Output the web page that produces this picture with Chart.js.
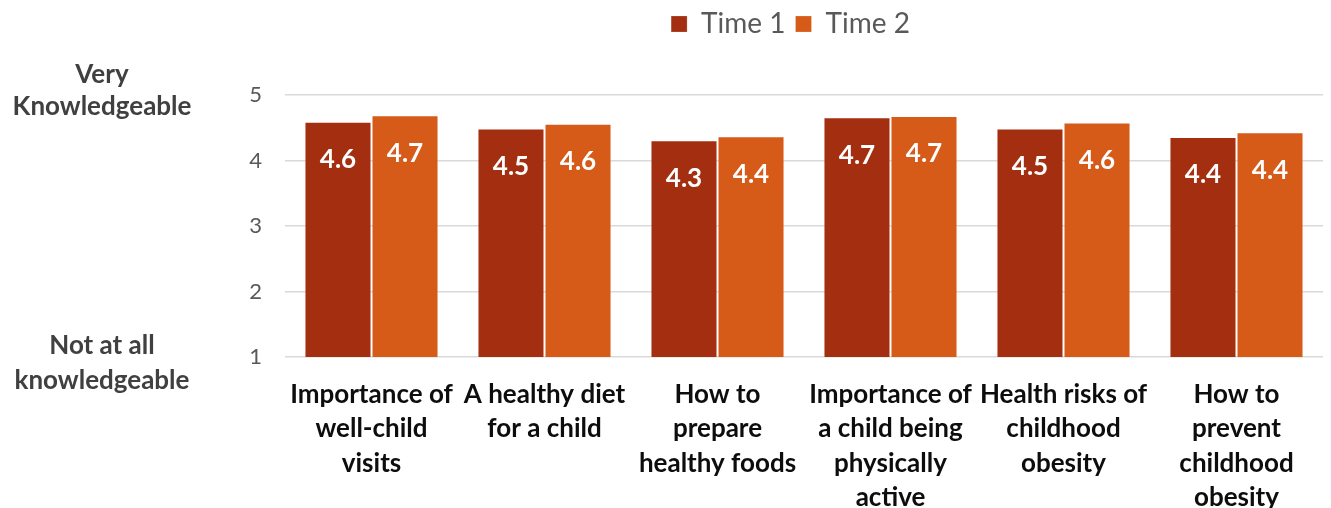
<!DOCTYPE html>
<html>
<head>
<meta charset="utf-8">
<script src="https://cdn.jsdelivr.net/npm/chart.js@4.4.1/dist/chart.umd.min.js"></script>
<style>
  html, body { margin: 0; padding: 0; background: #fff; }
  #wrap { width: 1331px; height: 508px; }
</style>
</head>
<body>
<div id="wrap"><canvas id="myChart" width="1331" height="508"></canvas></div>
<script>
// categories (already split into lines) and the two survey rounds
var categories = [
  ["Importance of", "well-child", "visits"],
  ["A healthy diet", "for a child"],
  ["How to", "prepare", "healthy foods"],
  ["Importance of", "a child being", "physically", "active"],
  ["Health risks of", "childhood", "obesity"],
  ["How to", "prevent", "childhood", "obesity"]
];
var time1 = [4.59, 4.49, 4.31, 4.66, 4.49, 4.36];
var time2 = [4.69, 4.56, 4.37, 4.68, 4.58, 4.43];
var yTicks = [1, 2, 3, 4, 5];
var topTitle = ["Very", "Knowledgeable"];
var bottomTitle = ["Not at all", "knowledgeable"];

var FONT = "Lato, 'Open Sans', sans-serif";

// white value labels inside the top of each bar
var valueLabels = {
  id: "valueLabels",
  afterDatasetsDraw: function(chart) {
    var ctx = chart.ctx;
    ctx.save();
    ctx.fillStyle = "#ffffff";
    ctx.font = "bold 26px " + FONT;
    ctx.textAlign = "center";
    ctx.textBaseline = "middle";
    chart.data.datasets.forEach(function(ds, i) {
      var meta = chart.getDatasetMeta(i);
      meta.data.forEach(function(bar, j) {
        ctx.fillText(ds.data[j].toFixed(1), bar.x, bar.y + 38);
      });
    });
    ctx.restore();
  }
};

// the two scale end captions left of the y axis
var scaleCaptions = {
  id: "scaleCaptions",
  afterDraw: function(chart) {
    var ctx = chart.ctx;
    var y = chart.scales.y;
    ctx.save();
    ctx.fillStyle = "#404040";
    ctx.font = "bold 26px " + FONT;
    ctx.textAlign = "center";
    ctx.textBaseline = "middle";
    var drawLines = function(lines, cy, lh) {
      var start = cy - (lines.length - 1) * lh / 2;
      lines.forEach(function(t, k) { ctx.fillText(t, 102, start + k * lh); });
    };
    drawLines(topTitle, y.getPixelForValue(5) - 4, 32);
    drawLines(bottomTitle, y.getPixelForValue(1) + 6, 35);
    ctx.restore();
  }
};

// legend: fixed band height above the plot, items centred over the plot
var legendBand = {
  id: "legendBand",
  beforeInit: function(chart) {
    var fit = chart.legend.fit;
    chart.legend.fit = function() {
      fit.call(this);
      this.height = 95;
    };
  },
  afterLayout: function(chart) {
    chart.legend.left = chart.chartArea.left - 27;
    chart.legend.right = chart.chartArea.right;
  }
};

var ctx = document.getElementById("myChart").getContext("2d");
var myChart = new Chart(ctx, {
  type: "bar",
  data: {
    labels: categories,
    datasets: [
      { label: "Time 1", data: time1, backgroundColor: "#A32F10",
        borderColor: "rgba(255,255,255,0.2)", borderWidth: 1 },
      { label: "Time 2", data: time2, backgroundColor: "#D65A18",
        borderColor: "rgba(255,255,255,0.2)", borderWidth: 1 }
    ]
  },
  options: {
    responsive: false,
    animation: false,
    layout: { padding: { top: 0, right: 8, left: 0, bottom: 0 } },
    datasets: { bar: { categoryPercentage: 0.775, barPercentage: 1 } },
    plugins: {
      tooltip: { enabled: false },
      legend: {
        position: "top",
        labels: {
          font: { family: FONT, size: 28 },
          color: "#595959",
          boxWidth: 16,
          boxHeight: 16,
          padding: 10
        }
      }
    },
    scales: {
      x: {
        grid: { display: false },
        border: { display: false },
        ticks: {
          autoSkip: false,
          maxRotation: 0,
          padding: 12,
          color: "#0d0d0d",
          font: { family: FONT, size: 26, weight: "bold", lineHeight: 1.33 }
        },
        afterFit: function(scale) { scale.height = 151; }
      },
      y: {
        min: 1,
        max: 5,
        afterBuildTicks: function(scale) {
          scale.ticks = yTicks.map(function(v) { return { value: v }; });
        },
        grid: { color: "#d9d9d9", lineWidth: 1.5, drawTicks: false },
        border: { display: false },
        ticks: {
          padding: 23,
          color: "#595959",
          font: { family: FONT, size: 22 }
        },
        afterFit: function(scale) { scale.width = 285; }
      }
    }
  },
  plugins: [legendBand, valueLabels, scaleCaptions]
});
</script>
</body>
</html>
